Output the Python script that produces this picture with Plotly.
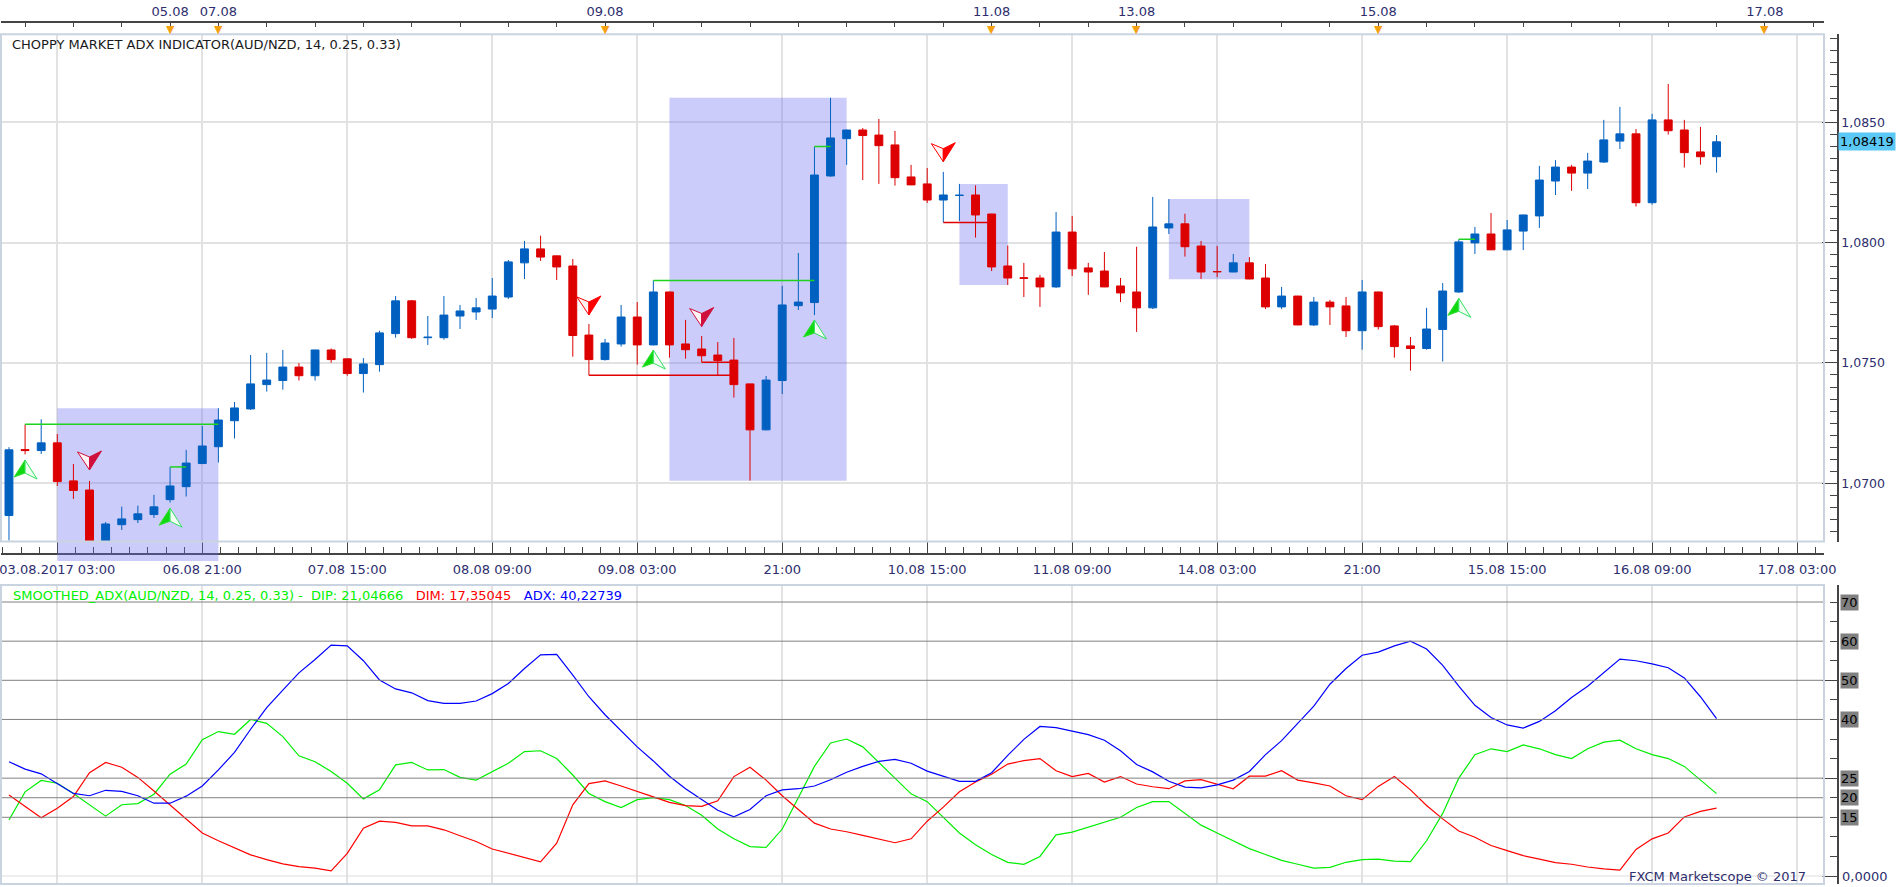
import plotly.graph_objects as go

# ---------------- data ----------------
idx = list(range(107))
opens = [1.06866,1.07140,1.07136,1.07168,1.07010,1.06972,1.06660,1.06828,1.06849,1.06870,
         1.06932,1.06986,1.07082,1.07152,1.07260,1.07309,1.07410,1.07427,1.07483,1.07447,
         1.07554,1.07517,1.07456,1.07493,1.07622,1.07758,1.07605,1.07605,1.07695,1.07712,
         1.07724,1.07774,1.07916,1.07974,1.07945,1.07903,1.07616,1.07514,1.07579,1.07691,
         1.07575,1.07795,1.07579,1.07558,1.07533,1.07512,1.07413,1.07222,1.07427,1.07738,
         1.07751,1.08277,1.08432,1.08468,1.08447,1.08406,1.08273,1.08244,1.08177,1.08196,
         1.08198,1.08119,1.07903,1.07854,1.07853,1.07816,1.08044,1.07895,1.07882,1.07820,
         1.07795,1.07729,1.08061,1.08078,1.07986,1.07880,1.07878,1.07916,1.07853,1.07733,
         1.07778,1.07658,1.07753,1.07737,1.07634,1.07795,1.07654,1.07571,1.07560,1.07639,
         1.07795,1.07999,1.08036,1.07970,1.08048,1.08111,1.08256,1.08314,1.08289,1.08335,
         1.08422,1.08452,1.08166,1.08510,1.08468,1.08377,1.08357]
highs = [1.07150,1.07245,1.07266,1.07205,1.07080,1.07010,1.06839,1.06903,1.06907,1.06952,
         1.07068,1.07139,1.07238,1.07312,1.07338,1.07533,1.07542,1.07554,1.07499,1.07555,
         1.07560,1.07518,1.07520,1.07634,1.07778,1.07762,1.07695,1.07778,1.07741,1.07770,
         1.07853,1.07928,1.08007,1.08029,1.07946,1.07932,1.07662,1.07600,1.07741,1.07753,
         1.07843,1.07796,1.07679,1.07612,1.07587,1.07604,1.07414,1.07446,1.07820,1.07957,
         1.08399,1.08602,1.08470,1.08476,1.08514,1.08464,1.08323,1.08310,1.08294,1.08244,
         1.08238,1.08120,1.07988,1.07916,1.07866,1.08127,1.08111,1.07916,1.07961,1.07853,
         1.07983,1.08190,1.08181,1.08120,1.08007,1.07986,1.07953,1.07940,1.07911,1.07816,
         1.07779,1.07774,1.07762,1.07774,1.07845,1.07796,1.07658,1.07608,1.07729,1.07832,
         1.08014,1.08065,1.08123,1.08094,1.08116,1.08319,1.08343,1.08323,1.08373,1.08510,
         1.08564,1.08472,1.08535,1.08659,1.08510,1.08481,1.08447]
lows = [1.06762,1.07120,1.07122,1.06989,1.06935,1.06644,1.06650,1.06806,1.06835,1.06856,
        1.06920,1.06945,1.07080,1.07086,1.07186,1.07305,1.07381,1.07389,1.07427,1.07427,
        1.07501,1.07447,1.07377,1.07464,1.07605,1.07600,1.07575,1.07597,1.07641,1.07679,
        1.07687,1.07766,1.07849,1.07924,1.07845,1.07526,1.07449,1.07510,1.07568,1.07493,
        1.07574,1.07522,1.07518,1.07503,1.07449,1.07356,1.07011,1.07220,1.07371,1.07720,
        1.07699,1.08274,1.08323,1.08260,1.08244,1.08237,1.08239,1.08165,1.08084,1.08090,
        1.08021,1.07882,1.07824,1.07774,1.07733,1.07812,1.07861,1.07783,1.07815,1.07753,
        1.07629,1.07724,1.08036,1.07942,1.07849,1.07857,1.07877,1.07848,1.07724,1.07724,
        1.07657,1.07654,1.07658,1.07608,1.07555,1.07639,1.07522,1.07468,1.07555,1.07506,
        1.07791,1.07953,1.07969,1.07969,1.07969,1.08061,1.08198,1.08215,1.08223,1.08331,
        1.08389,1.08150,1.08158,1.08449,1.08312,1.08324,1.08291]
closes = [1.07139,1.07136,1.07168,1.07007,1.06970,1.06660,1.06831,1.06852,1.06873,1.06902,
          1.06989,1.07084,1.07155,1.07263,1.07313,1.07413,1.07429,1.07483,1.07447,1.07554,
          1.07514,1.07456,1.07496,1.07625,1.07758,1.07605,1.07607,1.07699,1.07716,1.07729,
          1.07778,1.07920,1.07974,1.07940,1.07899,1.07614,1.07514,1.07583,1.07691,1.07575,
          1.07795,1.07575,1.07555,1.07530,1.07510,1.07410,1.07222,1.07429,1.07741,1.07753,
          1.08281,1.08435,1.08468,1.08445,1.08403,1.08270,1.08240,1.08177,1.08198,1.08197,
          1.08115,1.07899,1.07853,1.07852,1.07816,1.08044,1.07891,1.07878,1.07816,1.07791,
          1.07729,1.08065,1.08078,1.07983,1.07878,1.07879,1.07916,1.07849,1.07733,1.07778,
          1.07658,1.07753,1.07733,1.07634,1.07795,1.07651,1.07568,1.07560,1.07641,1.07799,
          1.08003,1.08036,1.07970,1.08053,1.08115,1.08260,1.08314,1.08289,1.08339,1.08427,
          1.08452,1.08166,1.08510,1.08465,1.08374,1.08357,1.08419]

adx = [29.2,27.3,26.1,23.7,21.1,20.5,21.9,21.6,20.5,18.6,
       18.6,20.4,23.0,27.1,31.6,37.5,43.0,47.5,51.9,55.3,
       59.0,58.8,55.0,50.1,47.8,46.8,44.8,44.1,44.1,44.7,
       46.6,49.2,53.0,56.5,56.6,51.3,45.8,41.2,37.0,33.0,
       29.4,25.5,22.3,19.5,16.8,15.1,17.0,20.5,22.0,22.3,
       23.0,24.6,26.5,28.0,29.3,29.8,28.8,26.8,25.6,24.2,
       24.2,26.4,30.8,34.9,38.2,37.9,37.0,36.1,34.7,32.0,
       28.5,26.6,24.2,22.7,22.5,23.3,24.5,26.7,31.0,34.6,
       39.0,43.4,49.0,53.0,56.4,57.2,58.8,60.0,58.0,53.8,
       48.5,43.6,40.5,38.6,37.8,39.5,42.2,45.6,48.5,52.0,
       55.4,55.0,54.2,53.2,50.6,45.8,40.22739]
dip = [14.3,21.5,24.4,23.7,21.1,18.2,15.3,18.2,18.5,20.9,
       26.0,28.6,34.8,36.9,36.2,40.0,39.0,35.6,30.7,29.2,
       26.7,23.7,19.7,22.0,28.4,29.0,27.1,27.2,25.2,24.5,
       26.7,28.8,31.8,32.0,30.0,25.8,21.1,19.0,17.5,19.5,
       20.0,19.5,18.0,15.5,12.0,9.5,7.5,7.3,12.0,20.0,
       28.0,34.0,35.0,33.0,29.0,25.0,21.0,19.0,15.0,11.0,
       8.0,5.5,3.5,3.0,5.0,10.5,11.2,12.5,13.6,15.0,
       17.5,19.0,19.0,16.0,13.0,11.0,9.0,7.0,5.5,4.0,
       3.0,2.0,2.2,3.5,4.2,4.3,3.8,3.7,9.0,16.0,
       25.0,31.0,32.5,31.8,33.5,32.5,31.0,30.0,32.5,34.2,
       34.7,32.5,31.0,30.0,28.0,24.5,21.04666]
dim = [20.7,17.7,14.9,17.3,20.3,26.4,29.0,27.8,25.2,21.7,
       18.2,14.7,11.0,9.0,7.2,5.4,4.2,3.1,2.4,2.0,
       1.3,5.8,12.2,14.0,13.7,12.8,12.8,11.8,10.3,8.8,
       6.9,5.8,4.7,3.6,8.4,18.2,23.6,24.3,23.0,21.5,
       20.2,18.8,18.0,17.8,19.2,25.4,27.8,24.5,20.5,17.0,
       13.5,12.0,11.3,10.4,9.5,8.5,9.5,14.0,17.6,21.5,
       24.0,26.0,28.6,29.5,30.0,26.9,25.4,26.2,24.0,25.4,
       23.5,22.8,22.3,24.3,24.6,23.5,22.3,25.5,25.5,26.9,
       24.5,23.8,23.0,20.5,19.5,22.9,25.4,22.0,18.0,14.6,
       11.5,9.9,7.8,6.5,5.2,4.3,3.4,3.0,2.3,1.8,
       1.5,6.8,9.5,11.0,15.1,16.5,17.35045]

x_label_pos = [3, 12, 21, 30, 39, 48, 57, 66, 75, 84, 93, 102, 111]
x_label_text = ["03.08.2017 03:00", "06.08 21:00", "07.08 15:00", "08.08 09:00",
                "09.08 03:00", "21:00", "10.08 15:00", "11.08 09:00", "14.08 03:00",
                "21:00", "15.08 15:00", "16.08 09:00", "17.08 03:00"]
day_pos = [10, 13, 37, 61, 70, 85, 109]
day_text = ["05.08", "07.08", "09.08", "11.08", "13.08", "15.08", "17.08"]

zones = [(3, 13), (41, 52), (59, 62), (72, 77)]
green_segments = [(1, 13), (10, 11), (40, 50), (50, 51), (90, 91)]
red_segments = [(36, 45), (43, 45), (58, 61)]
buy_idx = [1, 10, 40, 50, 90]
buy_price = [1.07055, 1.06855, 1.07512, 1.07637, 1.07727]
sell_idx = [5, 36, 43, 58]
sell_price = [1.07097, 1.07741, 1.07693, 1.08378]
sell_colors = ["#D0103C", "#FF0000", "#D0103C", "#FF0000"]
levels = [70, 60, 50, 40, 25, 20, 15]

# ---------------- layout geometry (pixels) ----------------
W, H = 1903, 887
XL, XR = 1, 1824
MAIN_T, MAIN_B = 34.3, 541.6
LOW_T, LOW_B = 585, 884
AXIS_X = 1838
XRANGE = [-0.495, 112.67]
YRANGE = [1.067577, 1.088657]
Y2RANGE = [(876 - LOW_B) / 3.914, (876 - LOW_T) / 3.914]

# arrow glyph outlines in pixels around the anchor (y up)
UP_SOLID = "M0,10 L-11,-7 L0,-3 Z"
UP_HOLLOW = "M0,10 L0,-3 L12,-9 Z"
DOWN_HOLLOW = "M0,-10 L-12,8 L0,3 Z"
DOWN_SOLID = "M0,-10 L0,3 L12,9 Z"

def px(p):
    return p / W

def py(p):
    return 1 - p / H

NAVY = "#2E2E6E"
FONT = "DejaVu Sans"

fig = go.Figure()

# channel lines
for a, b in green_segments:
    fig.add_trace(go.Scatter(x=[a, b], y=[highs[a], highs[a]], mode="lines",
                             line=dict(color="#1ED21E", width=1.5),
                             xaxis="x", yaxis="y", hoverinfo="skip"))
for a, b in red_segments:
    fig.add_trace(go.Scatter(x=[a, b], y=[lows[a], lows[a]], mode="lines",
                             line=dict(color="#E00000", width=1.5),
                             xaxis="x", yaxis="y", hoverinfo="skip"))

fig.add_trace(go.Candlestick(
    x=idx, open=opens, high=highs, low=lows, close=closes,
    increasing=dict(line=dict(color="#0060C0", width=1), fillcolor="#0060C0"),
    decreasing=dict(line=dict(color="#DD0000", width=1), fillcolor="#DD0000"),
    whiskerwidth=0, xaxis="x", yaxis="y"))

# ADX panel
fig.add_trace(go.Scatter(x=idx, y=dip, mode="lines", line=dict(color="#00EE00", width=1.2),
                         xaxis="x2", yaxis="y2"))
fig.add_trace(go.Scatter(x=idx, y=dim, mode="lines", line=dict(color="#FF0000", width=1.2),
                         xaxis="x2", yaxis="y2"))
fig.add_trace(go.Scatter(x=idx, y=adx, mode="lines", line=dict(color="#0000FF", width=1.2),
                         xaxis="x2", yaxis="y2"))

# invisible carriers so the free (label) axes get drawn
for xa, ya, yy in [("x3", "y", closes), ("x4", "y", closes), ("x", "y3", closes), ("x2", "y4", adx)]:
    fig.add_trace(go.Scatter(x=idx[-1:], y=yy[-1:], mode="markers", xaxis=xa, yaxis=ya,
                             marker=dict(opacity=0), hoverinfo="skip"))

shapes = []
for a, b in zones:
    top = max(highs[a:b + 1])
    bot = min(lows[a:b + 1])
    shapes.append(dict(type="rect", xref="x", yref="y", x0=a, x1=b, y0=bot, y1=top,
                       fillcolor="rgba(110,110,240,0.35)", line=dict(width=0), layer="between"))
    if bot < YRANGE[0]:
        shapes.append(dict(type="rect", xref="x", yref="paper", x0=a, x1=b,
                           y0=py(561), y1=py(MAIN_B),
                           fillcolor="rgba(110,110,240,0.35)", line=dict(width=0), layer="above"))

# signal arrows, anchored at data positions
for i, p in zip(buy_idx, buy_price):
    base = dict(type="path", xref="x", yref="y", xsizemode="pixel", ysizemode="pixel",
                xanchor=i, yanchor=p, layer="above")
    shapes.append(dict(base, path=UP_SOLID, fillcolor="#10D810",
                       line=dict(color="#30E030", width=1)))
    shapes.append(dict(base, path=UP_HOLLOW, fillcolor="#F4FFF4",
                       line=dict(color="#30E060", width=1)))
for i, p, c in zip(sell_idx, sell_price, sell_colors):
    base = dict(type="path", xref="x", yref="y", xsizemode="pixel", ysizemode="pixel",
                xanchor=i, yanchor=p, layer="above")
    shapes.append(dict(base, path=DOWN_HOLLOW, fillcolor="#FFF4F4",
                       line=dict(color=c, width=1)))
    shapes.append(dict(base, path=DOWN_SOLID, fillcolor=c, line=dict(color=c, width=1)))

for lv in levels:
    shapes.append(dict(type="line", xref="paper", yref="y2", x0=px(XL), x1=px(XR), y0=lv, y1=lv,
                       line=dict(color="#808080", width=1)))
shapes.append(dict(type="line", xref="paper", yref="y2", x0=px(XL), x1=px(XR), y0=0, y1=0,
                   line=dict(color="#DDDDDD", width=1)))
for t, b in [(MAIN_T, MAIN_B), (LOW_T, LOW_B)]:
    shapes.append(dict(type="rect", xref="paper", yref="paper", x0=px(XL), x1=px(XR),
                       y0=py(b), y1=py(t), line=dict(color="#CAD4E0", width=2),
                       fillcolor="rgba(0,0,0,0)", layer="above"))

def fmt(v, d):
    return f"{v:.{d}f}".replace(".", ",")

annotations = [
    dict(text="CHOPPY MARKET ADX INDICATOR(AUD/NZD, 14, 0.25, 0.33)", x=px(10), y=py(44),
         xref="paper", yref="paper", xanchor="left", yanchor="middle", showarrow=False,
         font=dict(family=FONT, size=13, color="#1A1A1A")),
    dict(text=(f"<span style='color:#00F000'>SMOOTHED_ADX(AUD/NZD, 14, 0.25, 0.33) -  DIP: {fmt(dip[-1], 5)}</span>"
               f"   <span style='color:#FF0000'>DIM: {fmt(dim[-1], 5)}</span>"
               f"   <span style='color:#0000FF'>ADX: {fmt(adx[-1], 5)}</span>"),
         x=px(11), y=py(595), xref="paper", yref="paper", xanchor="left", yanchor="middle",
         showarrow=False, font=dict(family=FONT, size=13)),
    dict(text="FXCM Marketscope © 2017", x=px(1808), y=py(876), xref="paper", yref="paper",
         xanchor="right", yanchor="middle", showarrow=False,
         font=dict(family=FONT, size=13, color=NAVY)),
    dict(text=fmt(closes[-1], 5), x=px(AXIS_X), y=closes[-1], xref="paper", yref="y",
         xanchor="left", yanchor="middle", showarrow=False, bgcolor="#5BC8F5", borderpad=1,
         font=dict(family=FONT, size=13, color="#000000")),
    dict(text="0,0000", x=px(AXIS_X + 2), y=0, xref="paper", yref="y2", xanchor="left",
         yanchor="middle", showarrow=False, font=dict(family=FONT, size=13, color=NAVY)),
]
for lv in levels:
    annotations.append(dict(text=str(lv), x=px(AXIS_X + 2), y=lv, xref="paper", yref="y2",
                            xanchor="left", yanchor="middle", showarrow=False, bgcolor="#808080",
                            borderpad=0, font=dict(family=FONT, size=13, color="#000000")))
for d in day_pos:
    annotations.append(dict(text="▼", x=d, y=py(21), xref="x", yref="paper", xanchor="center",
                            yanchor="top", showarrow=False,
                            font=dict(family=FONT, size=11, color="#F5A010")))

grid = "#E2E2E2"
common = dict(automargin=False, zeroline=False)
fig.update_layout(
    width=W, height=H, margin=dict(l=0, r=0, t=0, b=0, pad=0, autoexpand=False),
    paper_bgcolor="white", plot_bgcolor="white", showlegend=False,
    separators=",.", shapes=shapes, annotations=annotations,
    font=dict(family=FONT, size=13, color=NAVY),
    xaxis=dict(domain=[px(XL), px(XR)], range=XRANGE, anchor="y", tickmode="array",
               tickvals=x_label_pos, showticklabels=False, ticks="", showgrid=True,
               gridcolor=grid, gridwidth=1.5, rangeslider=dict(visible=False), **common),
    yaxis=dict(domain=[py(MAIN_B), py(MAIN_T)], range=YRANGE, anchor="x", tickmode="linear",
               tick0=1.07, dtick=0.005, showticklabels=False, ticks="", showgrid=True,
               gridcolor=grid, gridwidth=1.5, **common),
    xaxis2=dict(domain=[px(XL), px(XR)], range=XRANGE, anchor="y2", tickmode="array",
                tickvals=x_label_pos, showticklabels=False, ticks="", showgrid=True,
                gridcolor=grid, gridwidth=1.5, **common),
    yaxis2=dict(domain=[py(LOW_B), py(LOW_T)], range=Y2RANGE, anchor="x2",
                showticklabels=False, ticks="", showgrid=False, **common),
    xaxis3=dict(overlaying="x", anchor="free", position=py(553.5), side="bottom",
                range=XRANGE, tickmode="array", tickvals=x_label_pos, ticktext=x_label_text,
                ticks="inside", ticklen=12, tickcolor="#444", showline=True, linecolor="#444",
                linewidth=1.5, showgrid=False, ticklabelstandoff=4, ticklabeloverflow="allow",
                tickfont=dict(family=FONT, size=13, color=NAVY),
                minor=dict(tickmode="linear", tick0=3, dtick=1.125, ticks="inside",
                           ticklen=6, tickcolor="#444", showgrid=False), **common),
    xaxis4=dict(overlaying="x", anchor="free", position=py(21.5), side="top",
                range=XRANGE, tickmode="array", tickvals=day_pos, ticktext=day_text,
                ticks="", showline=True, linecolor="#444", linewidth=1.5, showgrid=False,
                ticklabeloverflow="allow", tickfont=dict(family=FONT, size=13, color=NAVY),
                minor=dict(tickmode="linear", tick0=1, dtick=3, ticks="inside",
                           ticklen=5, tickcolor="#444", showgrid=False), **common),
    yaxis3=dict(overlaying="y", anchor="free", position=px(AXIS_X), side="right",
                range=YRANGE, tickmode="linear", tick0=1.07, dtick=0.005, tickformat=".4f",
                ticks="inside", ticklen=15, tickcolor="#444", showline=True, linecolor="#444",
                linewidth=1.5, showgrid=False, ticklabeloverflow="allow",
                tickfont=dict(family=FONT, size=12.5, color=NAVY),
                minor=dict(tickmode="linear", tick0=1.07, dtick=0.0005, ticks="inside",
                           ticklen=7, tickcolor="#444", showgrid=False), **common),
    yaxis4=dict(overlaying="y2", anchor="free", position=px(AXIS_X), side="right",
                range=Y2RANGE, tickmode="linear", tick0=0, dtick=25, showticklabels=False,
                ticks="inside", ticklen=15, tickcolor="#444", showline=True, linecolor="#444",
                linewidth=1.5, showgrid=False,
                minor=dict(tickmode="linear", tick0=0, dtick=5, ticks="inside",
                           ticklen=7, tickcolor="#444", showgrid=False), **common),
)

fig.write_html("out.html")
